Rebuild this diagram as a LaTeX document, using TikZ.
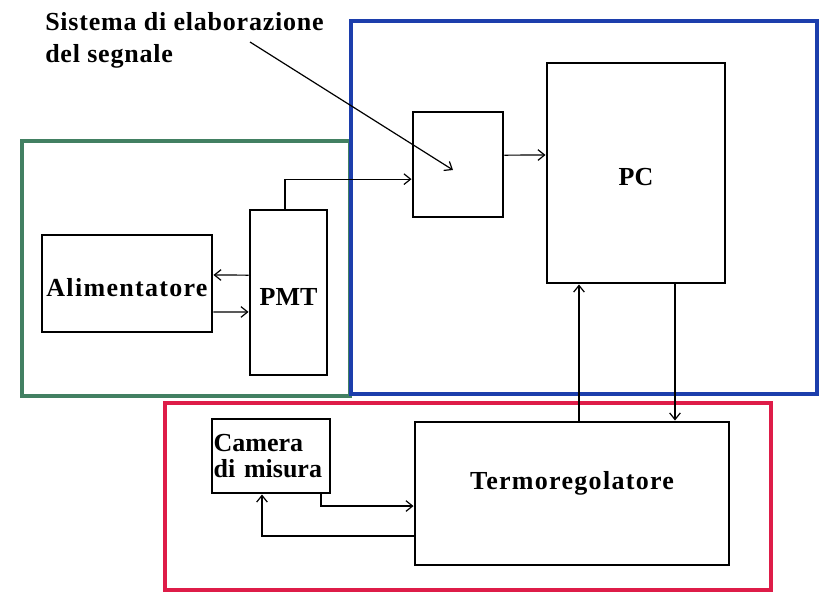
\documentclass[tikz,border=0pt]{standalone}
\usepackage{fontspec}
\setmainfont{Liberation Serif}
\usetikzlibrary{arrows.meta}
\definecolor{frameGreen}{RGB}{66,128,98}
\definecolor{frameBlue}{RGB}{28,62,172}
\definecolor{frameRed}{RGB}{222,28,72}
\tikzset{
 blk box/.style={draw,line width=2.2pt,inner sep=0pt,align=center,
                 font=\bfseries\fontsize{19.5}{24}\selectfont},
 blk size/.style 2 args={minimum width=#1*0.75pt,minimum height=#2*0.75pt},
 blk low/.style={text height=19pt,text depth=0pt},
 blk wide/.style={font=\bfseries\fontsize{19.5}{24}\selectfont\addfontfeature{LetterSpace=5}},
 blk frame/.style={line width=3.4pt},
 blk link/.style={line width=.9pt,-{Straight Barb[length=5pt,width=8pt]}},
 blk note/.style={font=\bfseries\fontsize{19.5}{24}\selectfont\addfontfeature{LetterSpace=3},
                  align=left,inner sep=0pt}
}
\begin{document}
\begin{tikzpicture}[x=0.75pt,y=-0.75pt]
 \useasboundingbox (0,0) rectangle (821,595);
 % group frames
 \draw[blk frame,frameGreen] (22,141) rectangle (350,396);
 \draw[blk frame,frameBlue] (351,21) rectangle (817,394);
 \draw[blk frame,frameRed] (165,403) rectangle (771,590);
 % blocks
 \node[blk box,blk wide,blk low,blk size={170}{97}] (alim) at (127,283.5) {Alimentatore};
 \node[blk box,blk low,blk size={77}{165}] (pmt) at (288.5,292.5) {PMT};
 \node[blk box,blk size={90}{105}] (proc) at (458,164.5) {};
 \node[blk box,blk low,blk size={178}{220}] (pc) at (636,173) {PC};
 \node[blk box,blk size={118}{74},align=left,text width=86pt,
       font=\bfseries\fontsize{19.5}{19.5}\selectfont] (camera) at (271,456) {Camera\\di misura};
 \node[blk box,blk wide,blk size={314}{143}] (termo) at (572,493.5) {Termoregolatore\\[-4pt]};
 % signal paths
 \draw[blk link] ([xshift=-2.6pt]pmt.north) |- ([yshift=-11pt]proc.west);
 \draw[blk link] ([yshift=7pt]proc.east) -- ([yshift=13.5pt]pc.west);
 \draw[blk link] ([yshift=13pt]pmt.west) -- ([yshift=6.4pt]alim.east);
 \draw[blk link] ([yshift=-21.4pt]alim.east) -- ([yshift=-14.6pt]pmt.west);
 \draw[blk link] ([xshift=5.25pt]termo.north) -- ([xshift=-42.75pt]pc.south);
 \draw[blk link] ([xshift=29.25pt]pc.south) -- ([xshift=77.25pt]termo.north);
 \draw[blk link] ([xshift=37.5pt]camera.south) |- ([yshift=-9.4pt]termo.west);
 \draw[blk link] ([yshift=-31.9pt]termo.west) -| ([xshift=-6.75pt]camera.south);
 % annotation
 \node[blk note,anchor=north west] (note) at (45,12) {Sistema di elaborazione\\del segnale};
 \coordinate (note start) at (250,42);
 \coordinate (note tip) at (453,170);
 \draw[blk link] (note start) -- (note tip);
\end{tikzpicture}
\end{document}
